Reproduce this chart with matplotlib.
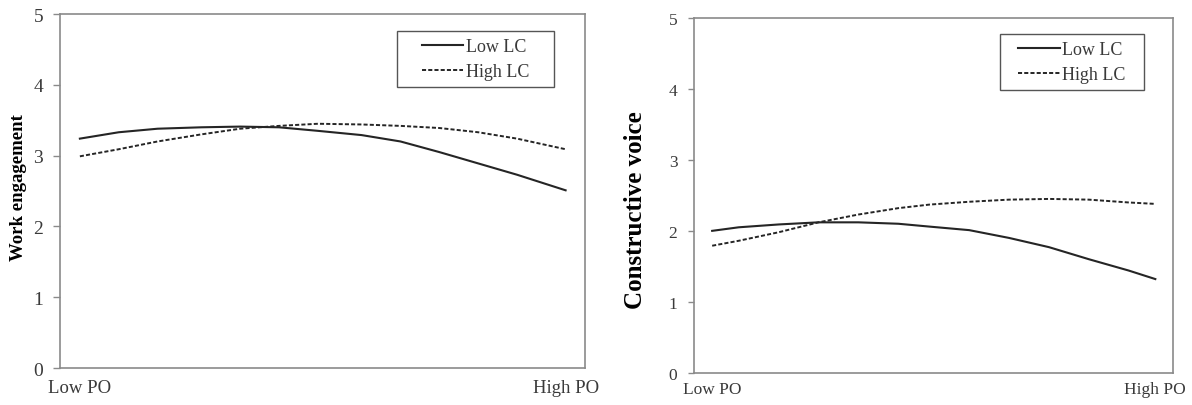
import matplotlib
matplotlib.use("Agg")
import matplotlib.pyplot as plt
from matplotlib.patches import Rectangle

plt.rcParams['font.family'] = ['Liberation Serif', 'DejaVu Serif']

# x positions along PO (0 = Low PO, 1 = High PO)
x_left = [0, 0.08, 0.16, 0.25, 0.33, 0.41, 0.49, 0.58, 0.66, 0.74, 0.82, 0.90, 1.0]
we_low = [3.24, 3.33, 3.38, 3.40, 3.41, 3.40, 3.35, 3.29, 3.20, 3.05, 2.89, 2.73, 2.51]
we_high = [2.99, 3.09, 3.20, 3.30, 3.38, 3.42, 3.45, 3.44, 3.42, 3.39, 3.33, 3.24, 3.09]

x_right = [0, 0.06, 0.15, 0.24, 0.33, 0.42, 0.49, 0.58, 0.67, 0.76, 0.85, 0.94, 1.0]
cv_low = [2.00, 2.05, 2.09, 2.12, 2.12, 2.10, 2.06, 2.01, 1.90, 1.77, 1.60, 1.44, 1.32]
cv_high = [1.79, 1.86, 1.98, 2.12, 2.23, 2.32, 2.37, 2.41, 2.44, 2.45, 2.44, 2.40, 2.38]

xtick_labels = ['Low PO', 'High PO']
yticks = [0, 1, 2, 3, 4, 5]
legend_labels = ['Low LC', 'High LC']

line_col = '#252525'
spine_col = '#8a8a8a'
text_col = '#3a3a3a'

fig = plt.figure(figsize=(11.92, 4.06), dpi=100)
ax1 = fig.add_axes([0.0503, 0.0911, 0.4405, 0.8719])
ax2 = fig.add_axes([0.5822, 0.0796, 0.4019, 0.8734])


def draw(ax, xs, low, high, ylabel, tick_fs, x_fs, y_fs, leg_fs, tick_len, tick_pad,
         xpad, label_xy, box):
    ax.plot(xs, low, color=line_col, lw=1.5, label=legend_labels[0])
    ax.plot(xs, high, color=line_col, lw=1.4, dashes=(2.1, 1.1), label=legend_labels[1])
    ax.set_xlim(-0.041, 1.04)
    ax.set_ylim(0, 5)
    ax.set_yticks(yticks)
    ax.set_xticks([0, 1])
    ax.set_xticklabels(xtick_labels)
    for s in ax.spines.values():
        s.set_color(spine_col)
        s.set_linewidth(1.2)
    ax.tick_params(axis='y', length=tick_len, width=1, color=spine_col,
                   labelsize=tick_fs, labelcolor=text_col, pad=tick_pad)
    ax.tick_params(axis='x', length=0, labelsize=x_fs, labelcolor=text_col, pad=xpad)
    ax.set_ylabel(ylabel, fontsize=y_fs, fontweight='bold', color='black')
    ax.yaxis.set_label_coords(*label_xy)

    # legend frame drawn separately (wide side padding as in the source figure)
    x0, y0, x1, y1 = box
    ax.add_patch(Rectangle((x0, y0), x1 - x0, y1 - y0, transform=ax.transAxes,
                           facecolor='white', edgecolor='#555555', lw=1.0, zorder=4))
    leg = ax.legend(loc='center', bbox_to_anchor=((x0 + x1) / 2, (y0 + y1) / 2),
                    fontsize=leg_fs, frameon=False, handlelength=2.3,
                    handletextpad=0.15, labelspacing=0.45)
    leg.set_zorder(5)
    for t in leg.get_texts():
        t.set_color(text_col)


draw(ax1, x_left, we_low, we_high, 'Work engagement', 14, 13.5, 13.5, 13, 5, 7, 8,
     (-0.063, 0.513), (0.642, 0.794, 0.941, 0.952))
draw(ax2, x_right, cv_low, cv_high, 'Constructive voice', 12.5, 12.5, 18, 13, 4, 8, 6,
     (-0.098, 0.461), (0.639, 0.797, 0.939, 0.955))

fig.savefig('out.png', dpi=100)
